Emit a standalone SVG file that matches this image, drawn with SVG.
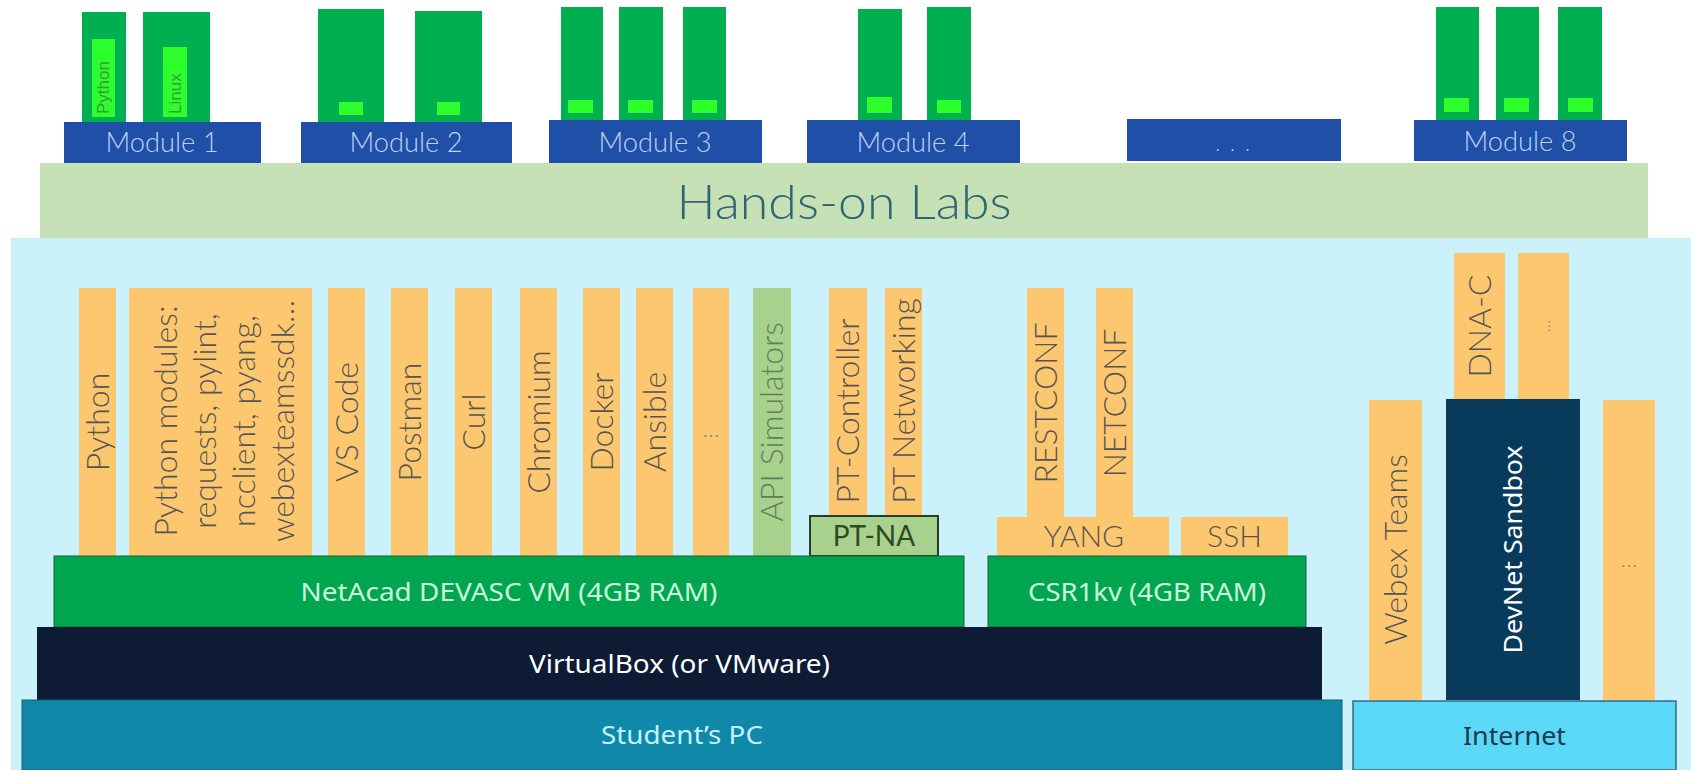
<svg xmlns="http://www.w3.org/2000/svg" width="1691" height="770" viewBox="0 0 1691 770">
<style>
.gbar{fill:#00b050}
.gin{fill:#2cff2c}
.mod{fill:#1f4fa6}
.modt{font-family:Lato,"Liberation Sans",Arial,sans-serif;font-weight:300;font-size:28px;fill:#b9d3f3;text-anchor:middle}
.org{fill:#fcc76f}
.vt{font-family:Lato,"Liberation Sans",Arial,sans-serif;font-weight:300;font-size:32px;fill:#555555;text-anchor:middle}
.ht{font-family:Lato,"Liberation Sans",Arial,sans-serif;font-weight:300;font-size:30px;fill:#555555;text-anchor:middle}
.ct{font-family:"Noto Sans","Liberation Sans",sans-serif;font-size:26px;text-anchor:middle}
</style>
<rect x="0" y="0" width="1691" height="770" fill="#ffffff"/>
<!-- light blue panel -->
<rect id="panel" x="11" y="238" width="1680" height="532" fill="#cbf1fb"/>

<!-- top: modules -->
<g id="module1">
<rect class="gbar" x="82" y="12" width="44" height="111"/>
<rect class="gbar" x="143" y="12" width="67" height="111"/>
<rect class="gin" x="92" y="39" width="23" height="78"/>
<rect class="gin" x="163" y="47" width="24" height="70"/>
<text transform="translate(109,114) rotate(-90)" font-family="Liberation Sans,Arial,sans-serif" font-size="17" fill="#3a9a3a">Python</text>
<text transform="translate(181,114) rotate(-90)" font-family="Liberation Sans,Arial,sans-serif" font-size="17" fill="#3a9a3a">Linux</text>
<rect class="mod" x="64" y="122" width="197" height="41"/>
<text class="modt" x="162" y="152" textLength="113" lengthAdjust="spacingAndGlyphs">Module 1</text>
</g>
<g id="module2">
<rect class="gbar" x="318" y="9" width="66" height="113"/>
<rect class="gbar" x="415" y="11" width="67" height="111"/>
<rect class="gin" x="339" y="102" width="24" height="13"/>
<rect class="gin" x="437" y="102" width="23" height="13"/>
<rect class="mod" x="301" y="122" width="211" height="41"/>
<text class="modt" x="406" y="152" textLength="113" lengthAdjust="spacingAndGlyphs">Module 2</text>
</g>
<g id="module3">
<rect class="gbar" x="561" y="7" width="42" height="113"/>
<rect class="gbar" x="619" y="7" width="44" height="113"/>
<rect class="gbar" x="683" y="7" width="43" height="113"/>
<rect class="gin" x="568" y="100" width="25" height="13"/>
<rect class="gin" x="628" y="100" width="25" height="13"/>
<rect class="gin" x="692" y="100" width="25" height="13"/>
<rect class="mod" x="549" y="120" width="213" height="43"/>
<text class="modt" x="655" y="152" textLength="113" lengthAdjust="spacingAndGlyphs">Module 3</text>
</g>
<g id="module4">
<rect class="gbar" x="858" y="9" width="44" height="111"/>
<rect class="gbar" x="927" y="7" width="44" height="113"/>
<rect class="gin" x="867" y="97" width="25" height="16"/>
<rect class="gin" x="937" y="100" width="24" height="13"/>
<rect class="mod" x="807" y="120" width="213" height="43"/>
<text class="modt" x="913" y="152" textLength="113" lengthAdjust="spacingAndGlyphs">Module 4</text>
</g>
<g id="module-more">
<rect class="mod" x="1127" y="119" width="214" height="42"/>
<text x="1234" y="151" font-family="Liberation Sans,Arial,sans-serif" font-size="16" fill="#b9d3f3" text-anchor="middle" letter-spacing="3">. . .</text>
</g>
<g id="module8">
<rect class="gbar" x="1436" y="7" width="43" height="113"/>
<rect class="gbar" x="1496" y="7" width="43" height="113"/>
<rect class="gbar" x="1558" y="7" width="44" height="113"/>
<rect class="gin" x="1444" y="98" width="25" height="14"/>
<rect class="gin" x="1504" y="98" width="25" height="14"/>
<rect class="gin" x="1568" y="98" width="25" height="14"/>
<rect class="mod" x="1414" y="120" width="213" height="41"/>
<text class="modt" x="1520" y="151" textLength="113" lengthAdjust="spacingAndGlyphs">Module 8</text>
</g>

<g id="hands-on-labs">
<rect x="40" y="163" width="1608" height="75" fill="#c5e1b5"/>
<text x="844" y="219" font-family="Lato,Liberation Sans,Arial,sans-serif" font-weight="300" font-size="48" fill="#2f6471" text-anchor="middle" textLength="335" lengthAdjust="spacingAndGlyphs">Hands-on Labs</text>
</g>

<!-- tools on VM -->
<g id="python"><rect class="org" x="79" y="288" width="37" height="268"/>
<text class="vt" transform="translate(97.5,422) rotate(-90)" dy="0.35em">Python</text></g>
<g id="python-modules"><rect class="org" x="129" y="288" width="183" height="268"/>
<text class="vt" transform="translate(0,421) rotate(-90)"><tspan x="0" y="177">Python modules:</tspan><tspan x="0" y="216">requests, pylint,</tspan><tspan x="0" y="255">ncclient, pyang,</tspan><tspan x="0" y="294">webexteamssdk…</tspan></text></g>
<g id="vscode"><rect class="org" x="328" y="288" width="37" height="268"/>
<text class="vt" transform="translate(346.5,422) rotate(-90)" dy="0.35em">VS Code</text></g>
<g id="postman"><rect class="org" x="391" y="288" width="37" height="268"/>
<text class="vt" transform="translate(409.5,422) rotate(-90)" dy="0.35em">Postman</text></g>
<g id="curl"><rect class="org" x="455" y="288" width="37" height="268"/>
<text class="vt" transform="translate(473.5,422) rotate(-90)" dy="0.35em">Curl</text></g>
<g id="chromium"><rect class="org" x="520" y="288" width="37" height="268"/>
<text class="vt" transform="translate(538.5,422) rotate(-90)" dy="0.35em">Chromium</text></g>
<g id="docker"><rect class="org" x="583" y="288" width="37" height="268"/>
<text class="vt" transform="translate(601.5,422) rotate(-90)" dy="0.35em">Docker</text></g>
<g id="ansible"><rect class="org" x="636" y="288" width="37" height="268"/>
<text class="vt" transform="translate(654.5,422) rotate(-90)" dy="0.35em">Ansible</text></g>
<g id="tools-more"><rect class="org" x="693" y="288" width="36" height="268"/>
<text x="711" y="437" font-family="Liberation Sans,Arial,sans-serif" font-size="18" fill="#8a8a8a" text-anchor="middle">…</text></g>
<g id="api-simulators"><rect x="753" y="288" width="38" height="268" fill="#a9d18e"/>
<text class="vt" transform="translate(772,422) rotate(-90)" dy="0.35em" style="fill:#5f7f58">API Simulators</text></g>
<g id="pt-controller"><rect class="org" x="829" y="288" width="38" height="229"/>
<text class="vt" transform="translate(848,411) rotate(-90)" dy="0.35em">PT-Controller</text></g>
<g id="pt-networking"><rect class="org" x="885" y="288" width="37" height="229"/>
<text class="vt" transform="translate(903.5,401) rotate(-90)" dy="0.35em">PT Networking</text></g>
<g id="pt-na"><rect x="810" y="516" width="128" height="40" fill="#a9d18e" stroke="#2a3a2a" stroke-width="2"/>
<text x="874" y="546" font-family="Lato,Liberation Sans,Arial,sans-serif" font-size="28" fill="#2d4a24" text-anchor="middle">PT-NA</text></g>

<!-- CSR tools -->
<g id="restconf"><rect class="org" x="1027" y="288" width="37" height="230"/>
<text class="vt" transform="translate(1045.5,403) rotate(-90)" dy="0.35em">RESTCONF</text></g>
<g id="netconf"><rect class="org" x="1096" y="288" width="37" height="230"/>
<text class="vt" transform="translate(1114.5,403) rotate(-90)" dy="0.35em">NETCONF</text></g>
<g id="yang"><rect class="org" x="997" y="517" width="172" height="39"/>
<text class="ht" x="1084" y="547">YANG</text></g>
<g id="ssh"><rect class="org" x="1181" y="517" width="107" height="39"/>
<text class="ht" x="1234.5" y="547">SSH</text></g>

<!-- VM layers -->
<g id="netacad-vm"><rect x="54" y="556" width="910" height="71" fill="#00a64f" stroke="#15603a" stroke-width="1"/>
<text class="ct" x="509" y="601" fill="#cbf7da" textLength="417" lengthAdjust="spacingAndGlyphs">NetAcad DEVASC VM (4GB RAM)</text></g>
<g id="csr1kv"><rect x="988" y="556" width="318" height="71" fill="#00a64f" stroke="#15603a" stroke-width="1"/>
<text class="ct" x="1147" y="601" fill="#cbf7da" textLength="238" lengthAdjust="spacingAndGlyphs">CSR1kv (4GB RAM)</text></g>
<g id="virtualbox"><rect x="37" y="627" width="1285" height="73" fill="#0d1b35"/>
<text class="ct" x="679.5" y="673" fill="#ffffff" textLength="301" lengthAdjust="spacingAndGlyphs">VirtualBox (or VMware)</text></g>
<g id="students-pc"><rect x="22" y="700" width="1320" height="70" fill="#0f88aa" stroke="#0b5f78" stroke-width="1"/>
<text class="ct" x="682" y="744" fill="#c4f1ff" textLength="162" lengthAdjust="spacingAndGlyphs">Student’s PC</text></g>

<!-- internet side -->
<g id="dna-c"><rect class="org" x="1454" y="253" width="51" height="146"/>
<text class="vt" transform="translate(1479.5,326) rotate(-90)" dy="0.35em">DNA-C</text></g>
<g id="sandbox-more"><rect class="org" x="1518" y="253" width="51" height="146"/>
<text class="vt" transform="translate(1543.5,326) rotate(-90)" dy="0.35em" style="font-size:18px;fill:#8a8a8a">…</text></g>
<g id="webex-teams"><rect class="org" x="1369" y="400" width="53" height="300"/>
<text class="vt" transform="translate(1395.5,549.5) rotate(-90)" dy="0.35em">Webex Teams</text></g>
<g id="devnet-sandbox"><rect x="1446" y="399" width="134" height="301" fill="#083a5b"/>
<text class="ct" transform="translate(1513,549.5) rotate(-90)" dy="0.35em" fill="#ffffff" textLength="208" lengthAdjust="spacingAndGlyphs">DevNet Sandbox</text></g>
<g id="internet-more"><rect class="org" x="1603" y="400" width="52" height="300"/>
<text x="1629" y="567" font-family="Liberation Sans,Arial,sans-serif" font-size="18" fill="#8a8a8a" text-anchor="middle">…</text></g>
<g id="internet"><rect x="1353" y="701" width="323" height="69" fill="#5bd8f7" stroke="#2d6f88" stroke-width="1.5"/>
<text class="ct" x="1514.5" y="745" fill="#1c3b4e" textLength="103" lengthAdjust="spacingAndGlyphs">Internet</text></g>
</svg>
